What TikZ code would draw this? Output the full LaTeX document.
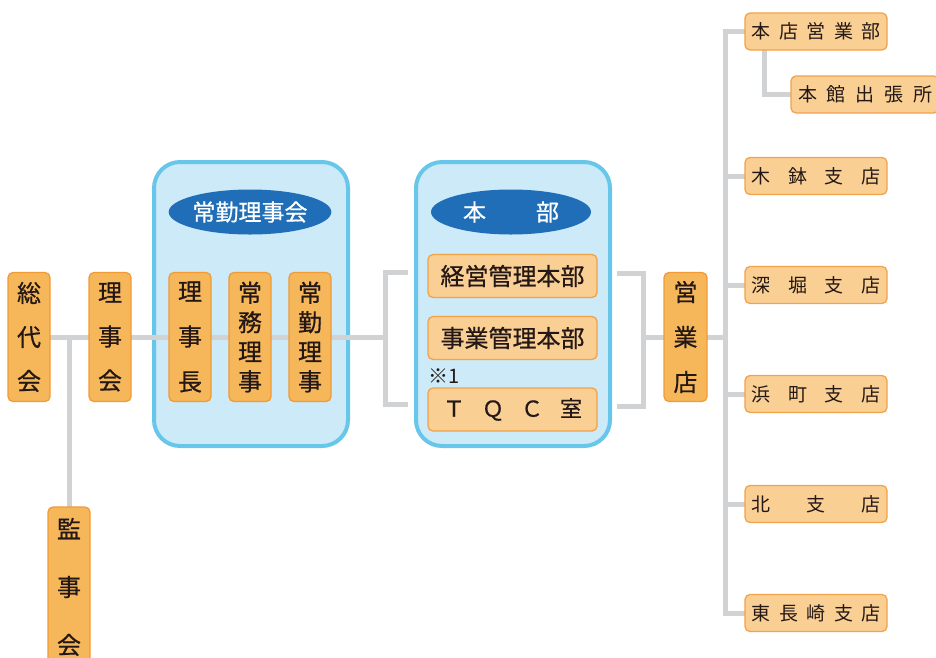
\documentclass[tikz,border=0pt]{standalone}
\usepackage{fontspec}
\setmainfont{Noto Sans CJK JP}[BoldFont={Noto Sans CJK JP},BoldFeatures={FakeBold=0.7}]
\usetikzlibrary{shapes.geometric}
\definecolor{lineG}{HTML}{D1D2D4}
\definecolor{contB}{HTML}{68C6EA}
\definecolor{contF}{HTML}{CCEAF7}
\definecolor{titleB}{HTML}{1F6EB7}
\definecolor{orM}{HTML}{F6B75B}
\definecolor{orMD}{HTML}{F29A36}
\definecolor{orL}{HTML}{FACF94}
\definecolor{orLD}{HTML}{F2A24A}
\definecolor{txt}{HTML}{231815}
\pgfdeclarelayer{back}
\pgfdeclarelayer{mid}
\pgfsetlayers{back,mid,main}
\begin{document}
\begin{tikzpicture}[x=1pt,y=-1pt,
  gline/.style={draw=lineG,line width=5pt,line join=miter},
  vbox/.style={draw=orMD,fill=orM,rounded corners=5pt,line width=1.3pt,
    minimum width=42pt,minimum height=129pt,inner sep=0pt,outer sep=0pt,
    align=center,text=txt,font=\fontsize{24}{44}\selectfont\bfseries},
  hbox/.style={draw=orLD,fill=orL,rounded corners=5pt,line width=1.3pt,
    minimum width=169pt,minimum height=43pt,inner sep=0pt,outer sep=0pt,
    text=txt,font=\fontsize{24}{28}\selectfont\bfseries},
  bbox/.style={draw=orLD,fill=orL,rounded corners=5pt,line width=1.3pt,
    minimum width=142pt,minimum height=37pt,inner sep=0pt,outer sep=0pt,
    text=txt,font=\fontsize{19}{22}\selectfont},
  container/.style={draw=contB,fill=contF,line width=4pt,rounded corners=26pt,
    minimum width=194pt,minimum height=284pt,inner sep=0pt},
  titleell/.style={ellipse,fill=titleB,minimum width=160pt,minimum height=45pt,
    inner sep=0pt,text=white,font=\fontsize{23}{26}\selectfont\bfseries},
  note/.style={inner sep=0pt,text=txt,font=\fontsize{20}{22}\selectfont}
]
\useasboundingbox (0,0) rectangle (936,657);

% containers
\begin{pgfonlayer}{back}
\node[container] (jcbox) at (251,304) {};
\node[container] (hbbox) at (513,304) {};
\end{pgfonlayer}
\node[titleell] (jctitle) at (250,212) {常勤理事会};
\node[titleell] (hbtitle) at (511,212) {本\hspace{50pt}部};

% vertical boxes
\node[vbox] (sodai) at (29,337) {総\\代\\会};
\node[vbox] (rijikai) at (110,337) {理\\事\\会};
\node[vbox,font=\fontsize{24}{45}\selectfont\bfseries] (richo) at (190,337) {理\\事\\長};
\node[vbox,font=\fontsize{24}{29.5}\selectfont\bfseries] (jomu) at (250,337) {常\\務\\理\\事};
\node[vbox,font=\fontsize{24}{29.5}\selectfont\bfseries] (jokin) at (310,337) {常\\勤\\理\\事};
\node[vbox,minimum height=160pt,font=\fontsize{24}{58}\selectfont\bfseries] (kanji) at (69,587) {監\\事\\会};
\node[vbox,minimum width=43pt,font=\fontsize{24}{45}\selectfont\bfseries] (eigyo) at (685.5,337) {営\\業\\店};

% honbu boxes
\node[hbox] (keiei) at (512.5,276) {経営管理本部};
\node[hbox] (jigyo) at (512.5,338) {事業管理本部};
\node[hbox,font=\fontsize{22}{26}\selectfont\bfseries] (tqc) at (512.5,409.5) {Ｔ\hspace{17pt}Ｑ\hspace{17pt}Ｃ\hspace{17pt}室};
\node[note] (kome) at (444,376) {※1};

% branches
\node[bbox] (honten) at (816,31.5) {\makebox[129pt]{本\hfill 店\hfill 営\hfill 業\hfill 部}};
\node[bbox,minimum width=148pt] (honkan) at (865,94.5) {\makebox[134pt][l]{本\hfill 館\hfill 出\hfill 張\hfill 所}};
\node[bbox] (kibachi) at (816,176) {\makebox[129pt]{木\hfill 鉢\hfill 支\hfill 店}};
\node[bbox] (fukahori) at (816,285) {\makebox[129pt]{深\hfill 堀\hfill 支\hfill 店}};
\node[bbox] (hamamachi) at (816,394) {\makebox[129pt]{浜\hfill 町\hfill 支\hfill 店}};
\node[bbox] (kita) at (816,504) {\makebox[129pt]{北\hfill 支\hfill 店}};
\node[bbox] (higashi) at (816,613) {\makebox[129pt]{東\hfill 長\hfill 崎\hfill 支\hfill 店}};

% connectors
\coordinate (kj) at (kanji.north |- sodai.east);
\coordinate (lbm) at (385,337);
\coordinate (lbt) at (408,272);
\coordinate (lbb) at (408,404);
\coordinate (rbm) at (643,337);
\coordinate (rbt) at (617,273);
\coordinate (rbb) at (617,406);
\coordinate (tm) at (725,337);
\begin{pgfonlayer}{mid}
\draw[gline] (sodai) -- (rijikai);
\draw[gline] (rijikai) -- (richo);
\draw[gline] (richo) -- (jomu);
\draw[gline] (jomu) -- (jokin);
\draw[gline] (kj) -- (kanji.north);
\draw[gline] (jokin) -- (lbm);
\draw[gline] (lbt) -| (lbm) |- (lbb);
\draw[gline] (rbt) -| (rbm) |- (rbb);
\draw[gline] (rbm) -- (eigyo);
\draw[gline] (eigyo) -- (tm);
\draw[gline] (honten.west) -| (tm) |- (higashi.west);
\foreach \n in {kibachi,fukahori,hamamachi,kita}
  \draw[gline] (\n.west) -- (\n.west -| tm);
\draw[gline] ([xshift=19pt]honten.south west) |- (honkan.west);
\end{pgfonlayer}
\end{tikzpicture}
\end{document}
